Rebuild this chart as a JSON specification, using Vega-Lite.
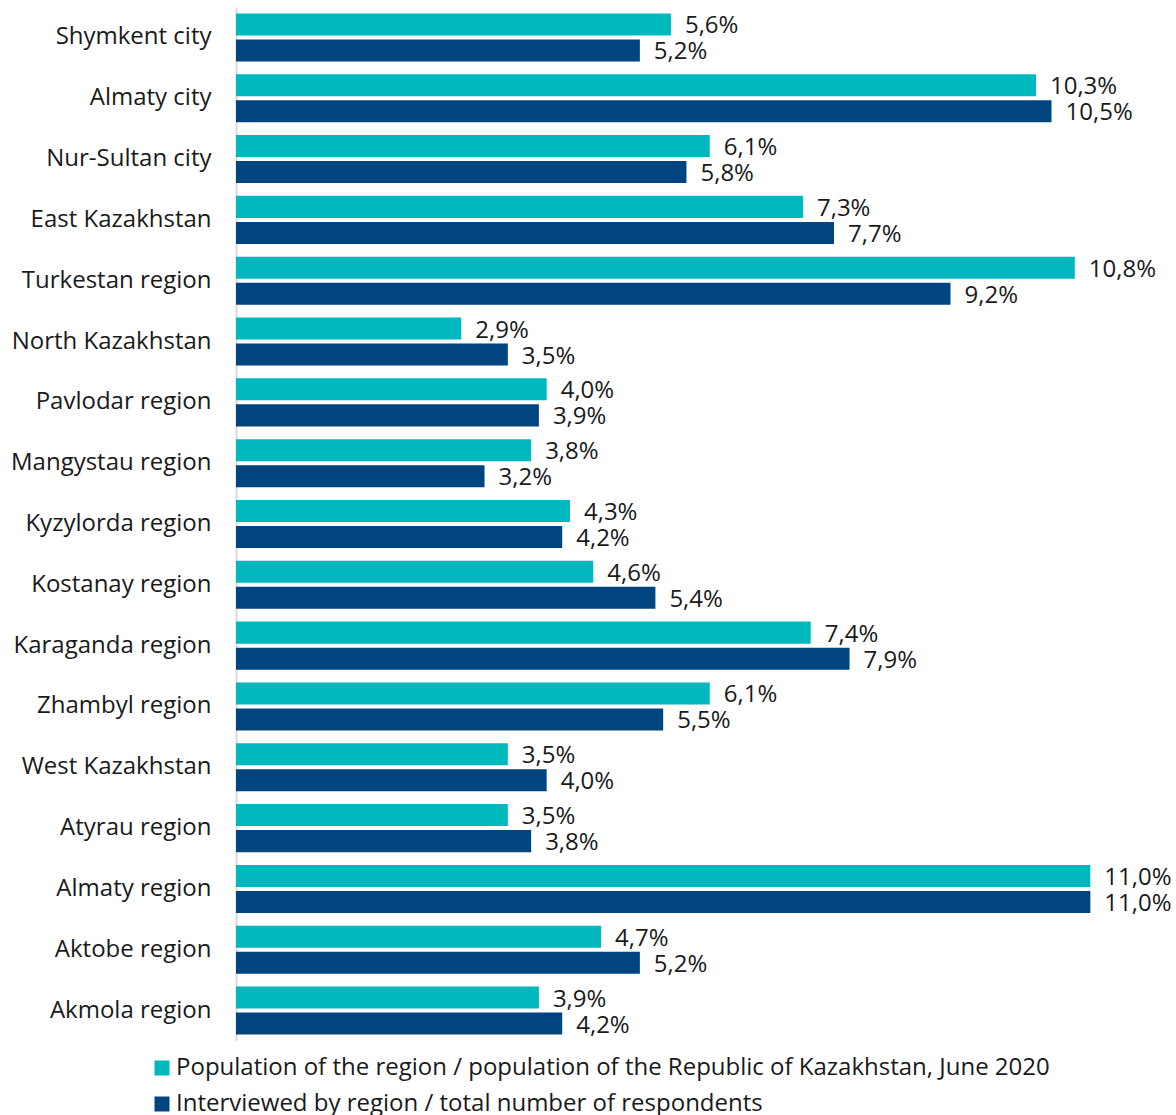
{
  "$schema": "https://vega.github.io/schema/vega-lite/v6.json",
  "width": 932,
  "height": 1034,
  "autosize": {"type": "none"},
  "padding": {"left": 236, "top": 7, "right": 8, "bottom": 74},
  "config": {
    "locale": {"number": {"decimal": ",", "thousands": " ", "grouping": [3], "currency": ["", ""]}},
    "font": "Open Sans",
    "view": {"stroke": null}
  },
  "data": {
    "values": [
      {"region": "Shymkent city", "series": "Population of the region / population of the Republic of Kazakhstan, June 2020", "value": 0.056},
      {"region": "Shymkent city", "series": "Interviewed by region / total number of respondents", "value": 0.052},
      {"region": "Almaty city", "series": "Population of the region / population of the Republic of Kazakhstan, June 2020", "value": 0.103},
      {"region": "Almaty city", "series": "Interviewed by region / total number of respondents", "value": 0.105},
      {"region": "Nur-Sultan city", "series": "Population of the region / population of the Republic of Kazakhstan, June 2020", "value": 0.061},
      {"region": "Nur-Sultan city", "series": "Interviewed by region / total number of respondents", "value": 0.058},
      {"region": "East Kazakhstan", "series": "Population of the region / population of the Republic of Kazakhstan, June 2020", "value": 0.073},
      {"region": "East Kazakhstan", "series": "Interviewed by region / total number of respondents", "value": 0.077},
      {"region": "Turkestan region", "series": "Population of the region / population of the Republic of Kazakhstan, June 2020", "value": 0.108},
      {"region": "Turkestan region", "series": "Interviewed by region / total number of respondents", "value": 0.092},
      {"region": "North Kazakhstan", "series": "Population of the region / population of the Republic of Kazakhstan, June 2020", "value": 0.029},
      {"region": "North Kazakhstan", "series": "Interviewed by region / total number of respondents", "value": 0.035},
      {"region": "Pavlodar region", "series": "Population of the region / population of the Republic of Kazakhstan, June 2020", "value": 0.040},
      {"region": "Pavlodar region", "series": "Interviewed by region / total number of respondents", "value": 0.039},
      {"region": "Mangystau region", "series": "Population of the region / population of the Republic of Kazakhstan, June 2020", "value": 0.038},
      {"region": "Mangystau region", "series": "Interviewed by region / total number of respondents", "value": 0.032},
      {"region": "Kyzylorda region", "series": "Population of the region / population of the Republic of Kazakhstan, June 2020", "value": 0.043},
      {"region": "Kyzylorda region", "series": "Interviewed by region / total number of respondents", "value": 0.042},
      {"region": "Kostanay region", "series": "Population of the region / population of the Republic of Kazakhstan, June 2020", "value": 0.046},
      {"region": "Kostanay region", "series": "Interviewed by region / total number of respondents", "value": 0.054},
      {"region": "Karaganda region", "series": "Population of the region / population of the Republic of Kazakhstan, June 2020", "value": 0.074},
      {"region": "Karaganda region", "series": "Interviewed by region / total number of respondents", "value": 0.079},
      {"region": "Zhambyl region", "series": "Population of the region / population of the Republic of Kazakhstan, June 2020", "value": 0.061},
      {"region": "Zhambyl region", "series": "Interviewed by region / total number of respondents", "value": 0.055},
      {"region": "West Kazakhstan", "series": "Population of the region / population of the Republic of Kazakhstan, June 2020", "value": 0.035},
      {"region": "West Kazakhstan", "series": "Interviewed by region / total number of respondents", "value": 0.040},
      {"region": "Atyrau region", "series": "Population of the region / population of the Republic of Kazakhstan, June 2020", "value": 0.035},
      {"region": "Atyrau region", "series": "Interviewed by region / total number of respondents", "value": 0.038},
      {"region": "Almaty region", "series": "Population of the region / population of the Republic of Kazakhstan, June 2020", "value": 0.110},
      {"region": "Almaty region", "series": "Interviewed by region / total number of respondents", "value": 0.110},
      {"region": "Aktobe region", "series": "Population of the region / population of the Republic of Kazakhstan, June 2020", "value": 0.047},
      {"region": "Aktobe region", "series": "Interviewed by region / total number of respondents", "value": 0.052},
      {"region": "Akmola region", "series": "Population of the region / population of the Republic of Kazakhstan, June 2020", "value": 0.039},
      {"region": "Akmola region", "series": "Interviewed by region / total number of respondents", "value": 0.042}
    ]
  },
  "encoding": {
    "y": {
      "field": "region", "type": "nominal", "sort": null,
      "scale": {"paddingInner": 0.21, "paddingOuter": 0.105},
      "axis": {"title": null, "ticks": false, "labelFontSize": 24, "labelColor": "#1a1a1a", "labelPadding": 25, "domainColor": "#d9d9d9", "domainWidth": 2, "labelFont": "Open Sans", "labelLimit": 0}
    },
    "yOffset": {
      "field": "series", "type": "nominal", "sort": null,
      "scale": {"paddingInner": 0.154, "paddingOuter": 0}
    },
    "x": {"field": "value", "type": "quantitative", "scale": {"domain": [0, 0.12]}, "axis": null}
  },
  "layer": [
    {
      "mark": {"type": "bar"},
      "encoding": {
        "color": {
          "field": "series", "type": "nominal", "sort": null,
          "scale": {
            "domain": ["Population of the region / population of the Republic of Kazakhstan, June 2020", "Interviewed by region / total number of respondents"],
            "range": ["#00B9BE", "#00457F"]
          },
          "legend": {
            "title": null, "orient": "none", "legendX": -86, "legendY": 1049,
            "direction": "vertical", "symbolType": "square", "symbolSize": 225,
            "symbolStrokeWidth": 0, "symbolOpacity": 1, "labelFontSize": 24, "labelFont": "Open Sans",
            "labelColor": "#1a1a1a", "labelLimit": 0, "labelOffset": 2, "rowPadding": 12, "padding": 0
          }
        }
      }
    },
    {
      "mark": {"type": "text", "align": "left", "baseline": "middle", "dx": 14, "dy": 2, "fontSize": 24, "font": "Open Sans", "color": "#1a1a1a"},
      "encoding": {"text": {"field": "value", "type": "quantitative", "format": ".1%"}}
    }
  ]
}
